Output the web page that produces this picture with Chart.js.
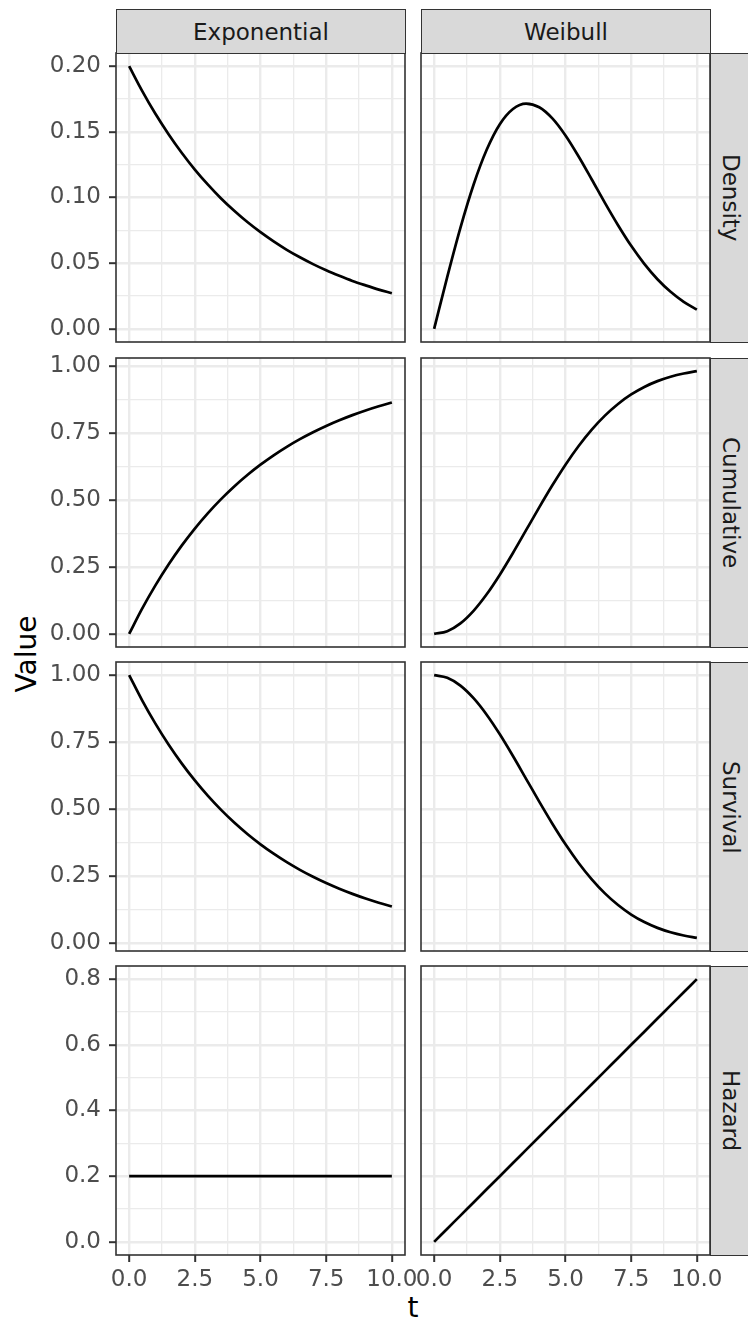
<!DOCTYPE html>
<html lang="en">
<head>
<meta charset="utf-8">
<title>Exponential vs Weibull</title>
<script src="https://cdn.jsdelivr.net/npm/chart.js@4.4.1/dist/chart.umd.min.js"></script>
<style>
  html, body { margin: 0; padding: 0; background: #fff; width: 748px; height: 1324px; overflow: hidden; }
  #page { position: relative; width: 748px; height: 1324px; font-family: "DejaVu Sans", sans-serif; overflow: hidden; }
  #page canvas { position: absolute; }
  .strip { position: absolute; box-sizing: border-box; background: #D9D9D9; border: 1.6px solid #333333;
           color: #1A1A1A; font-size: 23px; display: flex; align-items: center; justify-content: center; }
  .strip.right { border-right: none; }
  .strip.right span { writing-mode: vertical-rl; }
  .title { position: absolute; color: #000; font-size: 28px; line-height: 1; }
</style>
</head>
<body>
<div id="page">
  <div class="title" style="left:13px; top:654px; writing-mode: vertical-rl; transform: translateY(-50%) rotate(180deg);">Value</div>
  <div class="title" style="left:413px; top:1294px; transform: translateX(-50%);">t</div>
</div>

<script>
// t grid and values
var tValues = [0, 0.5, 1, 1.5, 2, 2.5, 3, 3.5, 4, 4.5, 5, 5.5, 6, 6.5, 7, 7.5, 8, 8.5, 9, 9.5, 10];

var expDensity    = [0.2000, 0.1810, 0.1637, 0.1482, 0.1341, 0.1213, 0.1098, 0.0993, 0.0899, 0.0813, 0.0736, 0.0666, 0.0602, 0.0545, 0.0493, 0.0446, 0.0404, 0.0365, 0.0331, 0.0299, 0.0271];
var expCumulative = [0.0000, 0.0952, 0.1813, 0.2592, 0.3297, 0.3935, 0.4512, 0.5034, 0.5507, 0.5934, 0.6321, 0.6671, 0.6988, 0.7275, 0.7534, 0.7769, 0.7981, 0.8173, 0.8347, 0.8504, 0.8647];
var expSurvival   = [1.0000, 0.9048, 0.8187, 0.7408, 0.6703, 0.6065, 0.5488, 0.4966, 0.4493, 0.4066, 0.3679, 0.3329, 0.3012, 0.2725, 0.2466, 0.2231, 0.2019, 0.1827, 0.1653, 0.1496, 0.1353];
var expHazard     = [0.2, 0.2, 0.2, 0.2, 0.2, 0.2, 0.2, 0.2, 0.2, 0.2, 0.2, 0.2, 0.2, 0.2, 0.2, 0.2, 0.2, 0.2, 0.2, 0.2, 0.2];

var weiDensity    = [0.0000, 0.0396, 0.0769, 0.1097, 0.1363, 0.1558, 0.1674, 0.1715, 0.1687, 0.1602, 0.1472, 0.1312, 0.1137, 0.0959, 0.0789, 0.0632, 0.0495, 0.0378, 0.0282, 0.0206, 0.0147];
var weiCumulative = [0.0000, 0.0100, 0.0392, 0.0861, 0.1479, 0.2212, 0.3023, 0.3874, 0.4727, 0.5551, 0.6321, 0.7018, 0.7631, 0.8155, 0.8591, 0.8946, 0.9227, 0.9444, 0.9608, 0.9729, 0.9817];
var weiSurvival   = [1.0000, 0.9900, 0.9608, 0.9139, 0.8521, 0.7788, 0.6977, 0.6126, 0.5273, 0.4449, 0.3679, 0.2982, 0.2369, 0.1845, 0.1409, 0.1054, 0.0773, 0.0556, 0.0392, 0.0271, 0.0183];
var weiHazard     = [0.00, 0.04, 0.08, 0.12, 0.16, 0.20, 0.24, 0.28, 0.32, 0.36, 0.40, 0.44, 0.48, 0.52, 0.56, 0.60, 0.64, 0.68, 0.72, 0.76, 0.80];

var facetCols = ['Exponential', 'Weibull'];
var facetRows = ['Density', 'Cumulative', 'Survival', 'Hazard'];
var panelSeries = [
  [expDensity, weiDensity],
  [expCumulative, weiCumulative],
  [expSurvival, weiSurvival],
  [expHazard, weiHazard]
];

var xBreaks = [0, 2.5, 5, 7.5, 10];
var yBreaks = [
  [0, 0.05, 0.10, 0.15, 0.20],
  [0, 0.25, 0.50, 0.75, 1.00],
  [0, 0.25, 0.50, 0.75, 1.00],
  [0, 0.2, 0.4, 0.6, 0.8]
];
var yDigits = [2, 2, 2, 1];

// layout (px)
var colLeft = [116, 421];
var rowTop = [53, 358, 662, 966];
var PW = 289, PH = 289;
var Y_AXIS_W = 100, X_AXIS_H = 45;
// generous padding so chart.js never pulls the plot area in for overhanging labels
var PAD = { left: 40, right: 40, top: 30, bottom: 30 };
var FONT = "DejaVu Sans";

function expand(vals) {
  var lo = Math.min.apply(null, vals), hi = Math.max.apply(null, vals);
  var d = (hi - lo) * 0.05;
  return [lo - d, hi + d];
}

// major breaks plus the minor ones halfway between (inside the limits only)
function withMinor(breaks, lim) {
  var step = breaks[1] - breaks[0];
  var out = breaks.map(function (v) { return { value: v, minor: false }; });
  for (var i = -1; i < breaks.length; i++) {
    var m = breaks[0] + (i + 0.5) * step;
    if (m > lim[0] && m < lim[1]) out.push({ value: m, minor: true });
  }
  return out.sort(function (a, b) { return a.value - b.value; });
}

var panelBorder = {
  id: 'panelBorder',
  afterDraw: function (chart) {
    var a = chart.chartArea, c = chart.ctx;
    c.save();
    c.strokeStyle = '#333333';
    c.lineWidth = 1.6;
    c.strokeRect(a.left, a.top, a.right - a.left, a.bottom - a.top);
    c.restore();
  }
};

var page = document.getElementById('page');
var xLim = expand(tValues);
var xTicks = withMinor(xBreaks, xLim);

function gridWidth(c) { return c.tick && c.tick.minor ? 1.3 : 2.4; }
function tickCol(c) { return c.tick && c.tick.minor ? 'rgba(0,0,0,0)' : '#333333'; }

for (var r = 0; r < facetRows.length; r++) {
  var yLim = expand(panelSeries[r][0].concat(panelSeries[r][1]));
  var yTicks = withMinor(yBreaks[r], yLim);

  for (var col = 0; col < facetCols.length; col++) {
    (function (r, col, yLim, yTicks) {
      var showX = r === facetRows.length - 1;
      var showY = col === 0;
      var yW = showY ? Y_AXIS_W : 0;
      var xH = showX ? X_AXIS_H : 0;

      var cv = document.createElement('canvas');
      cv.width = PAD.left + yW + PW + PAD.right;
      cv.height = PAD.top + PH + xH + PAD.bottom;
      cv.style.left = (colLeft[col] - yW - PAD.left) + 'px';
      cv.style.top = (rowTop[r] - PAD.top) + 'px';
      page.appendChild(cv);

      var pts = tValues.map(function (t, i) { return { x: t, y: panelSeries[r][col][i] }; });

      new Chart(cv.getContext('2d'), {
        type: 'line',
        data: {
          datasets: [{
            data: pts,
            borderColor: '#000000',
            borderWidth: 2.7,
            pointRadius: 0,
            cubicInterpolationMode: 'monotone',
            fill: false
          }]
        },
        options: {
          responsive: false,
          animation: false,
          events: [],
          layout: { padding: PAD },
          plugins: { legend: { display: false }, tooltip: { enabled: false } },
          scales: {
            x: {
              type: 'linear',
              min: xLim[0], max: xLim[1],
              afterBuildTicks: function (axis) { axis.ticks = xTicks.map(function (t) { return { value: t.value, minor: t.minor }; }); },
              afterFit: function (axis) { axis.height = xH; },
              border: { display: false },
              grid: { color: '#EBEBEB', lineWidth: gridWidth, drawTicks: showX, tickLength: 7, tickWidth: 2, tickColor: tickCol },
              ticks: {
                display: showX, autoSkip: false, maxRotation: 0, padding: 4,
                color: '#4D4D4D', font: { family: FONT, size: 23 },
                callback: function (v, i, ts) { return ts[i].minor ? '' : v.toFixed(1); }
              }
            },
            y: {
              type: 'linear',
              min: yLim[0], max: yLim[1],
              afterBuildTicks: function (axis) { axis.ticks = yTicks.map(function (t) { return { value: t.value, minor: t.minor }; }); },
              afterFit: function (axis) { axis.width = yW; },
              border: { display: false },
              grid: { color: '#EBEBEB', lineWidth: gridWidth, drawTicks: showY, tickLength: 7, tickWidth: 2, tickColor: tickCol },
              ticks: {
                display: showY, autoSkip: false, padding: 8,
                color: '#4D4D4D', font: { family: FONT, size: 23 },
                callback: function (v, i, ts) { return ts[i].minor ? '' : v.toFixed(yDigits[r]); }
              }
            }
          }
        },
        plugins: [panelBorder]
      });
    })(r, col, yLim, yTicks);
  }

  // row strip on the right
  var rs = document.createElement('div');
  rs.className = 'strip right';
  rs.style.left = (colLeft[1] + PW) + 'px';
  rs.style.top = rowTop[r] + 'px';
  rs.style.width = '40px';
  rs.style.height = (PH + 1) + 'px';
  rs.innerHTML = '<span>' + facetRows[r] + '</span>';
  page.appendChild(rs);
}

// column strips on top
facetCols.forEach(function (name, c) {
  var s = document.createElement('div');
  s.className = 'strip';
  s.style.left = colLeft[c] + 'px';
  s.style.top = '9px';
  s.style.width = (PW + 1) + 'px';
  s.style.height = '45px';
  s.textContent = name;
  page.appendChild(s);
});
</script>
</body>
</html>
